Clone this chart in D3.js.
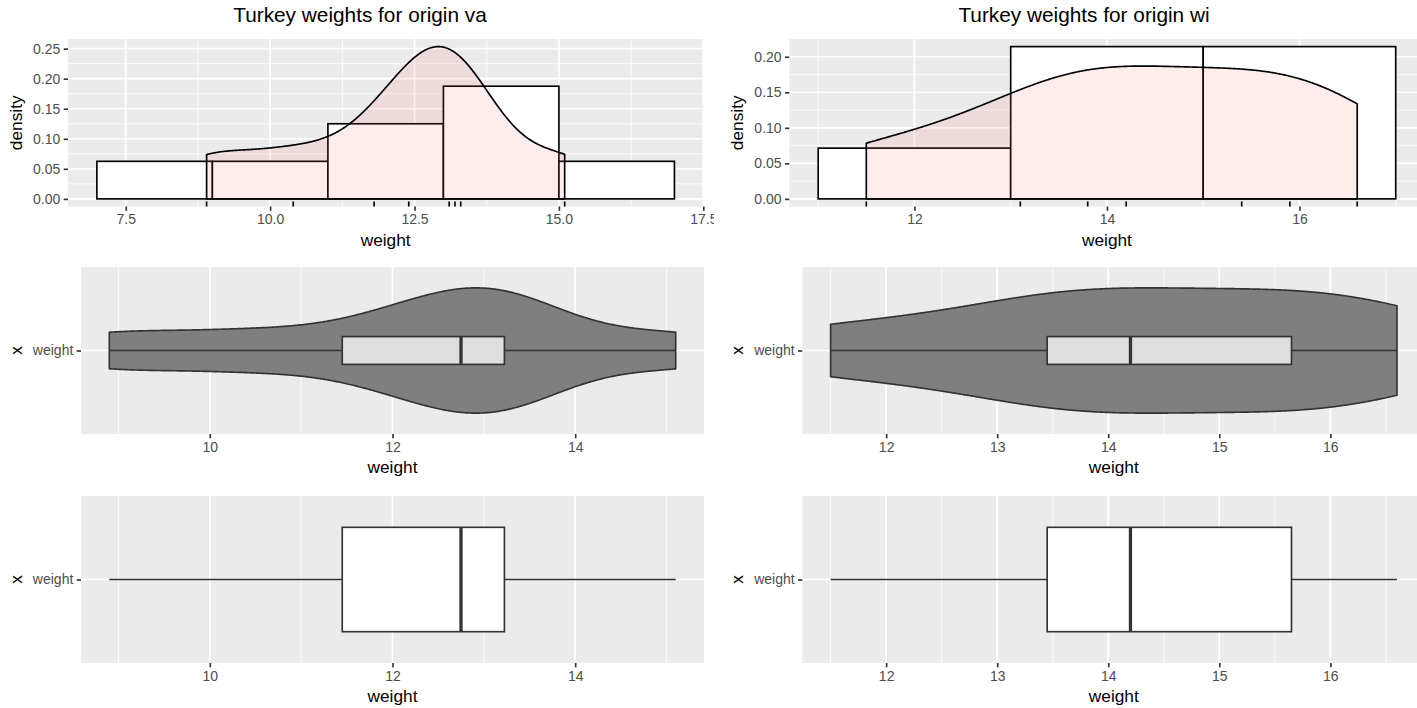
<!DOCTYPE html>
<html>
<head>
<meta charset="utf-8">
<script src="https://cdn.jsdelivr.net/npm/d3@7"></script>
<style>
  body { margin: 0; background: #ffffff; }
  text { font-family: "Liberation Sans", Arial, Helvetica, sans-serif; }
</style>
</head>
<body>
<svg id="chart" width="1417" height="708"></svg>
<script>
// Observed turkey weights by origin
const vaWeights = [8.9, 10.4, 11.8, 12.4, 13.1, 13.2, 13.3, 15.1];
const wiWeights = [11.5, 13.1, 13.8, 14.2, 15.4, 15.9, 16.6];

// Histogram bin edges (binwidth 2)
const vaBreaks = [7, 9, 11, 13, 15, 17];
const wiBreaks = [11, 13, 15, 17];

// Tick values
const vaHistXTicks = [7.5, 10, 12.5, 15, 17.5];
const wiHistXTicks = [12, 14, 16];
const vaDensityYTicks = [0, 0.05, 0.1, 0.15, 0.2, 0.25];
const wiDensityYTicks = [0, 0.05, 0.1, 0.15, 0.2];
const vaBoxXTicks = [10, 12, 14];
const wiBoxXTicks = [12, 13, 14, 15, 16];

const categoryLabel = "weight";

const svg = d3.select("#chart");
const LINE = 1.65;
const TICK_LEN = 4.3, TICK_PAD = 3.4;
const FS_TICK = 14, FS_AXIS = 17.3, FS_TITLE = 20.8;
const PANEL_BG = "#EBEBEB";

// Gaussian KDE with R's bw.nrd0, evaluated over the data range
function bwNrd0(x) {
  const s = d3.deviation(x);
  const sorted = x.slice().sort(d3.ascending);
  const iqr = d3.quantileSorted(sorted, 0.75) - d3.quantileSorted(sorted, 0.25);
  return 0.9 * Math.min(s, iqr / 1.34) * Math.pow(x.length, -0.2);
}
function kde(x, n = 512) {
  const bw = bwNrd0(x);
  const [a, b] = d3.extent(x);
  return d3.range(n).map(i => {
    const t = a + (b - a) * i / (n - 1);
    const d = d3.mean(x, v => Math.exp(-0.5 * ((t - v) / bw) ** 2)) / (bw * Math.sqrt(2 * Math.PI));
    return [t, d];
  });
}
function boxStats(x) {
  const s = x.slice().sort(d3.ascending);
  const q1 = d3.quantileSorted(s, 0.25), med = d3.quantileSorted(s, 0.5), q3 = d3.quantileSorted(s, 0.75);
  const iqr = q3 - q1;
  const lo = d3.min(s.filter(v => v >= q1 - 1.5 * iqr));
  const hi = d3.max(s.filter(v => v <= q3 + 1.5 * iqr));
  return { q1, med, q3, lo, hi };
}
function expand(ext, mult = 0.05) {
  const d = (ext[1] - ext[0]) * mult;
  return [ext[0] - d, ext[1] + d];
}
function minorTicks(major, domain) {
  const step = major[1] - major[0];
  const out = [];
  for (let v = major[0] - step / 2; v <= domain[1] + 1e-9; v += step) {
    if (v >= domain[0] - 1e-9) out.push(v);
  }
  return out;
}
function styleAxis(a) {
  a.select(".domain").remove();
  a.selectAll("line").attr("stroke", "#333333").attr("stroke-width", LINE);
  a.selectAll("text").attr("fill", "#4D4D4D").style("font-size", FS_TICK + "px");
}

// Column placement (left column clipped where the right one starts)
const columns = [
  { origin: "va", weights: vaWeights, breaks: vaBreaks, histX: vaHistXTicks, densY: vaDensityYTicks, boxX: vaBoxXTicks,
    fmt: ".1f", dx: 0, titleX: 360, clip: [0, 714] },
  { origin: "wi", weights: wiWeights, breaks: wiBreaks, histX: wiHistXTicks, densY: wiDensityYTicks, boxX: wiBoxXTicks,
    fmt: "d", dx: 721.3, titleX: 1084, clip: [714, 1417] }
];

const defs = svg.append("defs");

columns.forEach((col, ci) => {
  const clipId = "colclip" + ci;
  defs.append("clipPath").attr("id", clipId).append("rect")
    .attr("x", col.clip[0]).attr("y", 0).attr("width", col.clip[1] - col.clip[0]).attr("height", 708);
  const g = svg.append("g").attr("clip-path", `url(#${clipId})`);

  // ---------- Row 1: histogram + density + rug ----------
  const bins = d3.bin().domain([col.breaks[0], col.breaks[col.breaks.length - 1]])
    .thresholds(col.breaks.slice(1, -1))(col.weights);
  const n = col.weights.length;
  const histData = bins.map(b => ({ x0: b.x0, x1: b.x1, density: b.length / (n * (b.x1 - b.x0)) }));
  const dens = kde(col.weights);

  const xDom = expand([Math.min(col.breaks[0], d3.min(col.weights)),
                       Math.max(col.breaks[col.breaks.length - 1], d3.max(col.weights))]);
  const yMax = Math.max(d3.max(histData, d => d.density), d3.max(dens, d => d[1]));
  const yDom = expand([0, yMax]);

  const p1 = { left: 68 + col.dx, right: 703.3 + col.dx, top: 39, bottom: 206.5 };
  const x1 = d3.scaleLinear().domain(xDom).range([p1.left, p1.right]);
  const y1 = d3.scaleLinear().domain(yDom).range([p1.bottom, p1.top]);

  const panel1 = g.append("g");
  panel1.append("rect").attr("x", p1.left).attr("y", p1.top)
    .attr("width", p1.right - p1.left).attr("height", p1.bottom - p1.top).attr("fill", PANEL_BG);
  const yStep = col.densY[1] - col.densY[0];
  const yMinor = col.densY.map(v => v + yStep / 2).filter(v => v <= yDom[1]);
  panel1.selectAll(".ymin").data(yMinor).join("line")
    .attr("x1", p1.left).attr("x2", p1.right).attr("y1", d => y1(d)).attr("y2", d => y1(d))
    .attr("stroke", "#fff").attr("stroke-width", LINE / 2);
  panel1.selectAll(".xmin").data(minorTicks(col.histX, xDom)).join("line")
    .attr("y1", p1.top).attr("y2", p1.bottom).attr("x1", d => x1(d)).attr("x2", d => x1(d))
    .attr("stroke", "#fff").attr("stroke-width", LINE / 2);
  panel1.selectAll(".ymaj").data(col.densY).join("line")
    .attr("x1", p1.left).attr("x2", p1.right).attr("y1", d => y1(d)).attr("y2", d => y1(d))
    .attr("stroke", "#fff").attr("stroke-width", LINE);
  panel1.selectAll(".xmaj").data(col.histX.filter(v => v >= xDom[0] && v <= xDom[1] + 1e-9)).join("line")
    .attr("y1", p1.top).attr("y2", p1.bottom).attr("x1", d => x1(d)).attr("x2", d => x1(d))
    .attr("stroke", "#fff").attr("stroke-width", LINE);

  // histogram bars
  panel1.selectAll(".bar").data(histData).join("rect")
    .attr("x", d => x1(d.x0)).attr("width", d => x1(d.x1) - x1(d.x0))
    .attr("y", d => y1(d.density)).attr("height", d => y1(0) - y1(d.density))
    .attr("fill", "#ffffff").attr("stroke", "#000").attr("stroke-width", LINE);

  // density area (closed outline)
  const densPoly = [[dens[0][0], 0], ...dens, [dens[dens.length - 1][0], 0]];
  panel1.append("path")
    .attr("d", d3.line().x(d => x1(d[0])).y(d => y1(d[1]))(densPoly) + "Z")
    .attr("fill", "#FF6666").attr("fill-opacity", 0.12)
    .attr("stroke", "#000").attr("stroke-width", LINE).attr("stroke-linejoin", "round");

  // rug
  const rugLen = 0.03 * (p1.bottom - p1.top);
  panel1.selectAll(".rug").data(col.weights).join("line")
    .attr("x1", d => x1(d)).attr("x2", d => x1(d))
    .attr("y1", p1.bottom).attr("y2", p1.bottom - rugLen)
    .attr("stroke", "#000").attr("stroke-width", LINE);

  // axes
  g.append("g").attr("transform", `translate(0,${p1.bottom})`)
    .call(d3.axisBottom(x1).tickValues(col.histX).tickFormat(d3.format(col.fmt))
      .tickSize(TICK_LEN).tickPadding(TICK_PAD)).call(styleAxis);
  g.append("g").attr("transform", `translate(${p1.left},0)`)
    .call(d3.axisLeft(y1).tickValues(col.densY).tickFormat(d3.format(".2f"))
      .tickSize(TICK_LEN).tickPadding(TICK_PAD)).call(styleAxis);

  g.append("text").attr("x", (p1.left + p1.right) / 2).attr("y", p1.bottom + 39)
    .attr("text-anchor", "middle").style("font-size", FS_AXIS + "px").text("weight");
  g.append("text").attr("transform", `translate(${21.5 + col.dx},${(p1.top + p1.bottom) / 2}) rotate(-90)`)
    .attr("text-anchor", "middle").style("font-size", FS_AXIS + "px").text("density");
  g.append("text").attr("x", col.titleX).attr("y", 21.5)
    .attr("text-anchor", "middle").style("font-size", FS_TITLE + "px")
    .text(`Turkey weights for origin ${col.origin}`);

  // ---------- Rows 2 & 3: violin with boxplot, plain boxplot ----------
  const stats = boxStats(col.weights);
  const xDom2 = expand(d3.extent(col.weights));
  const rows = [
    { top: 267, bottom: 434, violin: true, boxWidth: 0.2, boxFill: "#DEDEDE" },
    { top: 496, bottom: 663, violin: false, boxWidth: 0.75, boxFill: "#FFFFFF" }
  ];
  rows.forEach(r => {
    const p = { left: 81 + col.dx, right: 704 + col.dx, top: r.top, bottom: r.bottom };
    const x = d3.scaleLinear().domain(xDom2).range([p.left, p.right]);
    const y = d3.scaleLinear().domain([0.4, 1.6]).range([p.bottom, p.top]);
    const pg = g.append("g");
    pg.append("rect").attr("x", p.left).attr("y", p.top)
      .attr("width", p.right - p.left).attr("height", p.bottom - p.top).attr("fill", PANEL_BG);
    pg.selectAll(".xmin").data(minorTicks(col.boxX, xDom2)).join("line")
      .attr("y1", p.top).attr("y2", p.bottom).attr("x1", d => x(d)).attr("x2", d => x(d))
      .attr("stroke", "#fff").attr("stroke-width", LINE / 2);
    pg.append("line").attr("x1", p.left).attr("x2", p.right).attr("y1", y(1)).attr("y2", y(1))
      .attr("stroke", "#fff").attr("stroke-width", LINE);
    pg.selectAll(".xmaj").data(col.boxX).join("line")
      .attr("y1", p.top).attr("y2", p.bottom).attr("x1", d => x(d)).attr("x2", d => x(d))
      .attr("stroke", "#fff").attr("stroke-width", LINE);

    if (r.violin) {
      const maxD = d3.max(dens, d => d[1]);
      const upper = dens.map(d => [d[0], 1 + 0.45 * d[1] / maxD]);
      const lower = dens.map(d => [d[0], 1 - 0.45 * d[1] / maxD]).reverse();
      pg.append("path")
        .attr("d", d3.line().x(d => x(d[0])).y(d => y(d[1]))([...upper, ...lower]) + "Z")
        .attr("fill", "#7F7F7F").attr("stroke", "#333333").attr("stroke-width", LINE)
        .attr("stroke-linejoin", "round");
    }
    // whiskers
    pg.selectAll(".whisker").data([[stats.lo, stats.q1], [stats.q3, stats.hi]]).join("line")
      .attr("x1", d => x(d[0])).attr("x2", d => x(d[1])).attr("y1", y(1)).attr("y2", y(1))
      .attr("stroke", "#333333").attr("stroke-width", LINE);
    // box and median
    pg.append("rect").attr("x", x(stats.q1)).attr("width", x(stats.q3) - x(stats.q1))
      .attr("y", y(1 + r.boxWidth / 2)).attr("height", y(1 - r.boxWidth / 2) - y(1 + r.boxWidth / 2))
      .attr("fill", r.boxFill).attr("stroke", "#333333").attr("stroke-width", LINE);
    pg.append("line").attr("x1", x(stats.med)).attr("x2", x(stats.med))
      .attr("y1", y(1 + r.boxWidth / 2)).attr("y2", y(1 - r.boxWidth / 2))
      .attr("stroke", "#333333").attr("stroke-width", LINE * 2);

    g.append("g").attr("transform", `translate(0,${p.bottom})`)
      .call(d3.axisBottom(x).tickValues(col.boxX).tickFormat(d3.format("d"))
        .tickSize(TICK_LEN).tickPadding(TICK_PAD)).call(styleAxis);
    g.append("g").attr("transform", `translate(${p.left},0)`)
      .call(d3.axisLeft(y).tickValues([1]).tickFormat(() => categoryLabel)
        .tickSize(TICK_LEN).tickPadding(TICK_PAD)).call(styleAxis);
    g.append("text").attr("x", (p.left + p.right) / 2).attr("y", p.bottom + 39)
      .attr("text-anchor", "middle").style("font-size", FS_AXIS + "px").text("weight");
    g.append("text").attr("transform", `translate(${21.5 + col.dx},${y(1)}) rotate(-90)`)
      .attr("text-anchor", "middle").style("font-size", FS_AXIS + "px").text("x");
  });
});
</script>
</body>
</html>
